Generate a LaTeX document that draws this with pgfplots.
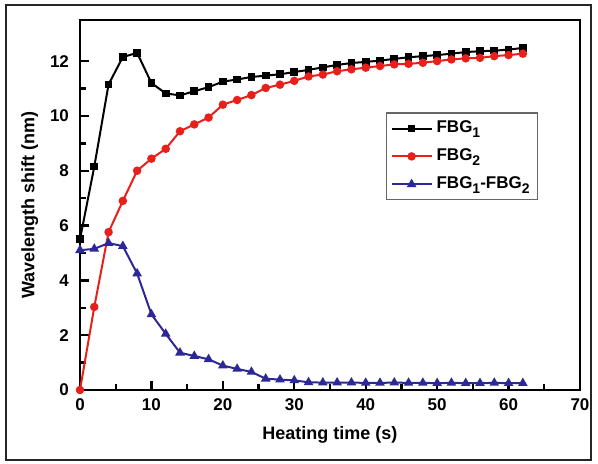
\documentclass[border=0pt]{standalone}
\usepackage{fontspec}
\setmainfont{Liberation Sans}
\usepackage{pgfplots}
\pgfplotsset{compat=1.18}
\definecolor{fbgred}{RGB}{232,32,28}
\definecolor{fbgblue}{RGB}{44,40,150}
\begin{document}
\begin{tikzpicture}
\useasboundingbox (0,0) rectangle (299pt,232pt);
\draw[line width=1.2pt, black!85] (3pt,2pt) rectangle (295.5pt,229.5pt);
\begin{axis}[
  at={(40pt,37pt)}, anchor=south west,
  scale only axis, width=250pt, height=185pt,
  xmin=0, xmax=70, ymin=0, ymax=13.5,
  xtick={0,10,...,70}, ytick={0,2,...,12},
  minor x tick num=1, minor y tick num=1,
  tick align=inside, xtick pos=bottom, ytick pos=left,
  major tick length=4.5pt, minor tick length=3pt,
  axis line style={line width=1.3pt},
  every tick/.style={line width=1.2pt, black},
  /pgf/number format/assume math mode=true,
  tick label style={font=\fontsize{8.5}{10}\selectfont\bfseries},
  xticklabel style={yshift=-1pt},
  yticklabel style={xshift=-2pt},
  label style={font=\fontsize{9}{11}\selectfont\bfseries},
  xlabel={Heating time (s)},
  ylabel={Wavelength shift (nm)},
  xlabel style={yshift=-1pt},
  ylabel style={yshift=-1pt},
  legend style={at={(0.612,0.75)}, anchor=north west, draw=black!60, line width=0.6pt,
    font=\fontsize{8.5}{10}\selectfont\bfseries, inner xsep=2pt, inner ysep=2pt,
    row sep=2.5pt, cells={anchor=west}},
  legend image code/.code={\draw[mark repeat=2, mark phase=2, #1] plot coordinates {(0pt,0pt) (10pt,0pt) (20pt,0pt)};},
  legend cell align=left,
]
\addplot[black, line width=1pt, mark=square*, mark size=1.4pt] coordinates {
(0,5.5)(2,8.15)(4,11.15)(6,12.15)(8,12.3)(10,11.2)(12,10.82)(14,10.75)(16,10.9)(18,11.05)
(20,11.25)(22,11.33)(24,11.42)(26,11.47)(28,11.52)(30,11.6)(32,11.68)(34,11.77)(36,11.86)
(38,11.93)(40,11.97)(42,12.02)(44,12.08)(46,12.14)(48,12.18)(50,12.22)(52,12.27)(54,12.33)
(56,12.36)(58,12.38)(60,12.42)(62,12.48)};
\addlegendentry{FBG\raisebox{-0.5ex}{\scriptsize 1}}
\addplot[fbgred, line width=1pt, mark=*, mark size=1.6pt] coordinates {
(0,0)(2,3.03)(4,5.76)(6,6.9)(8,8.0)(10,8.44)(12,8.8)(14,9.44)(16,9.69)(18,9.94)
(20,10.41)(22,10.58)(24,10.76)(26,11.02)(28,11.14)(30,11.28)(32,11.44)(34,11.51)(36,11.63)
(38,11.7)(40,11.76)(42,11.82)(44,11.88)(46,11.9)(48,11.94)(50,12.0)(52,12.06)(54,12.1)
(56,12.12)(58,12.18)(60,12.22)(62,12.27)};
\addlegendentry{FBG\raisebox{-0.5ex}{\scriptsize 2}}
\addplot[fbgblue, line width=1pt, mark=triangle*, mark size=1.8pt] coordinates {
(0,5.1)(2,5.15)(4,5.36)(6,5.25)(8,4.25)(10,2.76)(12,2.05)(14,1.36)(16,1.24)(18,1.12)
(20,0.89)(22,0.77)(24,0.66)(26,0.41)(28,0.38)(30,0.35)(32,0.28)(34,0.27)(36,0.27)
(38,0.27)(40,0.26)(42,0.26)(44,0.27)(46,0.26)(48,0.26)(50,0.25)(52,0.26)(54,0.25)
(56,0.25)(58,0.26)(60,0.25)(62,0.25)};
\addlegendentry{FBG\raisebox{-0.5ex}{\scriptsize 1}-FBG\raisebox{-0.5ex}{\scriptsize 2}}
\end{axis}
\end{tikzpicture}
\end{document}
